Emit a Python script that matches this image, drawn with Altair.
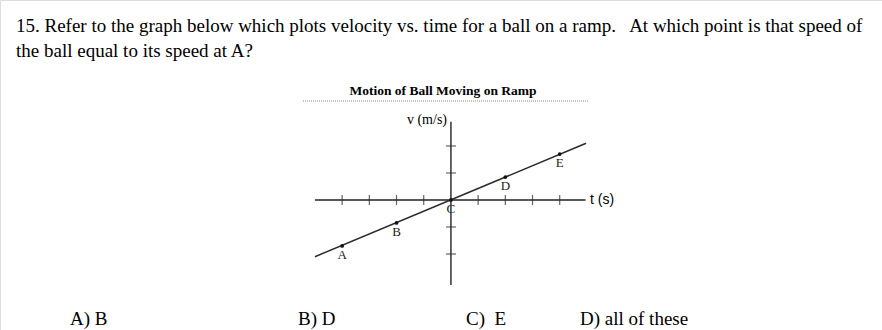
import altair as alt
import pandas as pd

# ---- data ----
point_labels = ["A", "B", "C", "D", "E"]
point_t = [-4, -2, 0, 2, 4]
point_v = [-1.7, -0.85, 0, 0.85, 1.7]

line_t = [-5.0, 4.97]
line_v = [-2.1, 2.1]

x_ticks = [-4, -3, -2, -1, 1, 2, 3, 4]
y_ticks = [-2, -1, 1, 2]

x_axis_range = [-5.0, 4.95]
y_axis_range = [-3.15, 2.9]

question_lines = [
    "15. Refer to the graph below which plots velocity vs. time for a ball on a ramp.\u00a0\u00a0 At which point is that speed of",
    "the ball equal to its speed at A?",
]
answers = ["A) B", "B) D", "C)\u00a0 E", "D) all of these"]
chart_title = "Motion of Ball Moving on Ramp"
y_label = "v (m/s)"
x_label = "t (s)"

SERIF = "Liberation Serif"

xs = alt.Scale(domain=[-16.58, 15.85], nice=False, zero=False)
ys = alt.Scale(domain=[-4.815, 7.407], nice=False, zero=False)

pts = pd.DataFrame({"t": point_t, "v": point_v, "label": point_labels})
ln = pd.DataFrame({"t": line_t, "v": line_v})
xa = pd.DataFrame({"t": [x_axis_range[0]], "t2": [x_axis_range[1]], "v": [0]})
ya = pd.DataFrame({"v": [y_axis_range[0]], "v2": [y_axis_range[1]], "t": [0]})
xt = pd.DataFrame({"t": x_ticks})
yt = pd.DataFrame({"v": y_ticks})

X = lambda f: alt.X(f, scale=xs, axis=None)
Y = lambda f: alt.Y(f, scale=ys, axis=None)

x_axis = alt.Chart(xa).mark_rule(color="#222", strokeWidth=1.4).encode(
    x=X("t:Q"), x2="t2:Q", y=Y("v:Q"))
y_axis = alt.Chart(ya).mark_rule(color="#222", strokeWidth=1.4).encode(
    y=Y("v:Q"), y2="v2:Q", x=X("t:Q"))
xtick = alt.Chart(xt).mark_tick(color="#222", thickness=1.2, size=10, orient="vertical").encode(
    x=X("t:Q"), y=alt.value(200))
ytick = alt.Chart(yt).mark_tick(color="#222", thickness=1.2, size=10, orient="horizontal").encode(
    y=Y("v:Q"), x=alt.value(451))
line = alt.Chart(ln).mark_line(color="#2a2a2a", strokeWidth=1.5).encode(
    x=X("t:Q"), y=Y("v:Q"))
dots = alt.Chart(pts).mark_circle(color="#111", size=14, opacity=1).encode(
    x=X("t:Q"), y=Y("v:Q"))
lbls = alt.Chart(pts).mark_text(font=SERIF, fontSize=13, color="#222", baseline="top", dy=3).encode(
    x=X("t:Q"), y=Y("v:Q"), text="label:N")

one = pd.DataFrame({"k": [0]})

def txt(s, x, y, size=19, align="left", weight="normal", font=SERIF, baseline="alphabetic"):
    return alt.Chart(one).mark_text(font=font, fontSize=size, align=align, fontWeight=weight,
                                    baseline=baseline, color="#000").encode(
        x=alt.value(x), y=alt.value(y), text=alt.value(s))

texts = [
    txt(question_lines[0], 16, 32),
    txt(question_lines[1], 16, 57),
    txt(answers[0], 70, 325),
    txt(answers[1], 298, 325),
    txt(answers[2], 466, 325),
    txt(answers[3], 580, 325),
    txt(chart_title, 443, 95, size=13.5, align="center", weight="bold"),
    txt(y_label, 447, 124, size=14, align="right"),
    txt(x_label, 590, 200, size=14, font="Liberation Sans", baseline="middle"),
]

underline = alt.Chart(one).mark_rule(color="#888", strokeDash=[1, 1], strokeWidth=1.2).encode(
    x=alt.value(303), x2=alt.value(588), y=alt.value(101))

chart = alt.layer(underline, x_axis, y_axis, xtick, ytick, line, dots, lbls, *texts).properties(
    width=882, height=330, autosize=alt.AutoSizeParams(type="none"), padding=0
).configure_view(stroke=None).configure(background="white")

chart.save("out.html", embed_options={"renderer": "svg", "actions": False})
